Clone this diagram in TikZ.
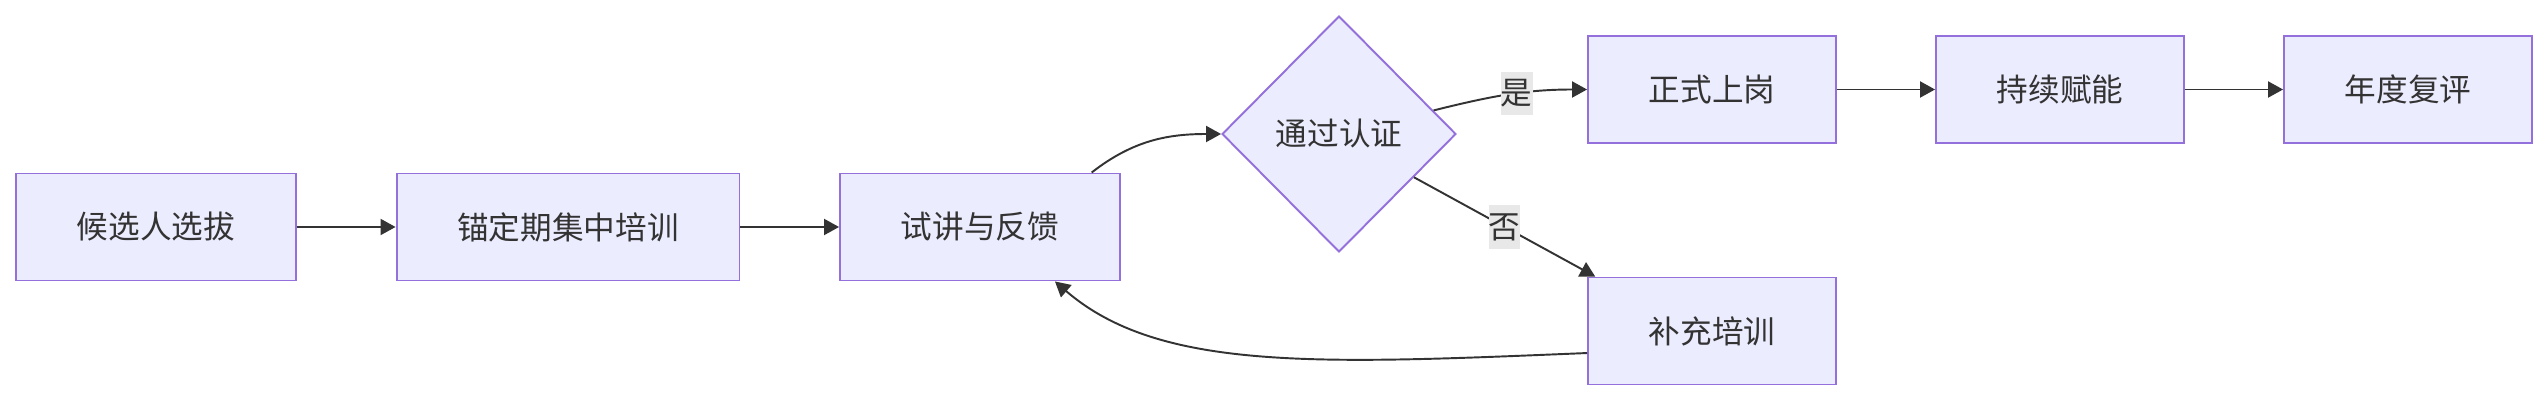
\documentclass[tikz,border=0pt]{standalone}
\usepackage{fontspec}
\setmainfont{Noto Sans CJK SC}
\usepackage{tikz}
\usetikzlibrary{arrows.meta,shapes.geometric}
\definecolor{ink}{HTML}{333333}
\definecolor{lav}{HTML}{ECECFF}
\definecolor{lavdk}{HTML}{9370DB}
\definecolor{labbg}{HTML}{E8E8E8}
\tikzset{
  flow/.style={-{Triangle[length=0.3cm,width=0.32cm]}, line width=1.1pt, color=ink},
  blk/.style={draw=lavdk, fill=lav, line width=1.1pt, text=ink, font=\fontsize{18}{22}\selectfont,
    minimum width=#1, minimum height=2.14cm, inner sep=0pt, align=center},
  blk/.default=4.96cm,
  dec/.style={diamond, draw=lavdk, fill=lav, line width=1.1pt, text=ink, font=\fontsize{18}{22}\selectfont,
    minimum width=4.68cm, minimum height=4.72cm, inner sep=0pt},
  elab/.style={fill=labbg, text=ink, font=\fontsize{18}{22}\selectfont, inner xsep=0pt, inner ysep=0.16cm},
}

\begin{document}
\begin{tikzpicture}[x=0.02cm,y=0.02cm]
  \useasboundingbox (0,0) rectangle (2548,402);
  % main row
  \node[blk=5.6cm] (cand) at (156,175) {候选人选拔};
  \node[blk=6.86cm] (camp) at (568,175) {锚定期集中培训};
  \node[blk=5.6cm] (trial) at (980,175) {试讲与反馈};
  \node[dec] (cert) at (1339,268) {通过认证};
  % pass branch
  \node[blk] (onjob) at (1712,312.5) {正式上岗};
  \node[blk] (grow) at (2060,312.5) {持续赋能};
  \node[blk] (yearly) at (2408,312.5) {年度复评};
  % fail branch
  \node[blk] (extra) at (1712,71) {补充培训};

  \draw[flow] (cand) -- (camp);
  \draw[flow] (camp) -- (trial);
  \draw[flow] (trial.26) to[out=38,in=180] (cert.west);
  \draw[flow] (cert.14) to[out=14,in=180] node[elab,pos=0.55] {是} (onjob.west);
  \draw[flow] (cert.-30) -- node[elab] {否} (extra.155);
  \draw[flow] (onjob) -- (grow);
  \draw[flow] (grow) -- (yearly);
  \draw[flow] (extra.190) .. controls (1320,38) and (1160,30) .. (trial.-36);
\end{tikzpicture}
\end{document}
